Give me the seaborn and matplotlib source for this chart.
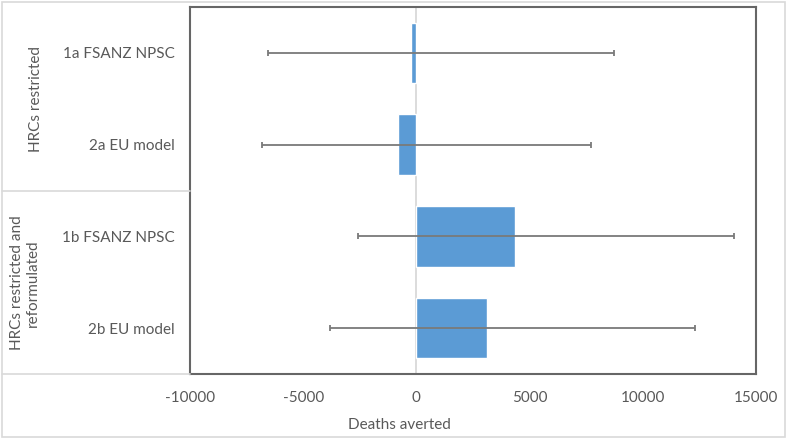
import numpy as np
import pandas as pd
import seaborn as sns
import matplotlib.pyplot as plt
from matplotlib.lines import Line2D
from matplotlib.patches import Rectangle

# values
scenarios = ['1a FSANZ NPSC', '2a EU model', '1b FSANZ NPSC', '2b EU model']
deaths_averted = [-250, -800, 4375, 3140]
ci_lower = [-6535, -6800, -2576, -3811]
ci_upper = [8717, 7726, 14040, 12302]
groups = ['HRCs restricted', 'HRCs restricted and\nreformulated']
x_ticks = [-10000, -5000, 0, 5000, 10000, 15000]

df = pd.DataFrame({'scenario': scenarios, 'deaths': deaths_averted,
                   'lo': ci_lower, 'hi': ci_upper})

sns.set_theme(style='white')
plt.rcParams['font.family'] = ['Lato', 'DejaVu Sans']
text_col = '#595959'

W, H = 787, 440
fig = plt.figure(figsize=(W / 100, H / 100), dpi=100)
ax = fig.add_axes([190 / W, 1 - 374 / H, (756 - 190) / W, (374 - 7) / H])

ax.axvline(0, color='#d9d9d9', lw=1.3, zorder=0)
sns.barplot(data=df, x='deaths', y='scenario', orient='h', color='#5B9BD5',
            saturation=1, width=0.66, ax=ax, zorder=2)

ypos = np.arange(len(df))
xerr = np.vstack([df['deaths'] - df['lo'], df['hi'] - df['deaths']])
ax.errorbar(df['deaths'], ypos, xerr=xerr, fmt='none', ecolor='#7a7a7a',
            elinewidth=1.3, capsize=2.3, capthick=1.3, zorder=3)

ax.set_xlim(-10000, 15000)
ax.set_ylim(len(df) - 0.5, -0.5)
ax.set_xticks(x_ticks)
ax.set_xticklabels([str(t) for t in x_ticks])
ax.tick_params(axis='both', length=0, labelsize=11, colors=text_col)
ax.tick_params(axis='y', pad=11)
ax.tick_params(axis='x', pad=12)
ax.set_ylabel('')
ax.set_xlabel('Deaths averted', fontsize=11, color=text_col)
ax.xaxis.set_label_coords(0.37, -0.12)
for s in ax.spines.values():
    s.set_visible(True)
    s.set_color('#666666')
    s.set_linewidth(1.5)

# group labels and separators on the left
fig.text(36 / W, 1 - 99 / H, groups[0], rotation=90, ha='center', va='center',
         fontsize=11, color=text_col)
fig.text(25 / W, 1 - 283 / H, groups[1], rotation=90, ha='center', va='center',
         fontsize=11, color=text_col, multialignment='center', linespacing=1.15)
for yy in [191, 374]:
    fig.add_artist(Line2D([2 / W, 190 / W], [1 - yy / H, 1 - yy / H],
                          color='#d9d9d9', lw=1.2))
fig.add_artist(Rectangle((2 / W, 1 - 437 / H), 783 / W, 435 / H, fill=False,
                         edgecolor='#d9d9d9', lw=1.2))

fig.savefig('out.png', dpi=100)
